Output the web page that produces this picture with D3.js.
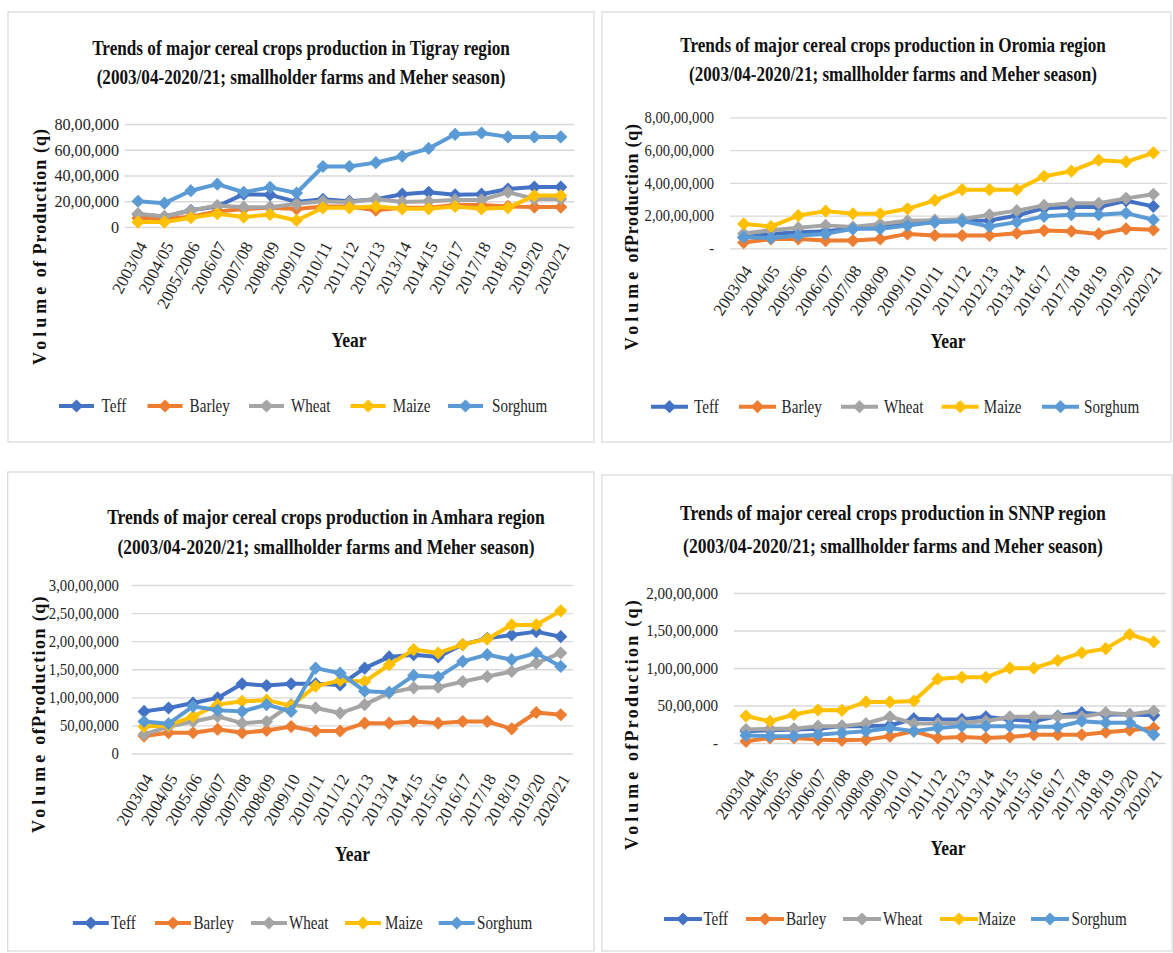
<!DOCTYPE html>
<html>
<head>
<meta charset="utf-8">
<script src="https://cdnjs.cloudflare.com/ajax/libs/d3/7.8.5/d3.min.js"></script>
<style>
  body { margin: 0; background: #fff; }
  text { font-family: "Liberation Serif", "Times New Roman", "DejaVu Serif", serif; }
</style>
</head>
<body>
<div id="chart"></div>
<script>
// crops, same order in every region
const cropNames = ["Teff", "Barley", "Wheat", "Maize", "Sorghum"];
const cropColors = ["#4472C4", "#ED7D31", "#A5A5A5", "#FFC000", "#5B9BD5"];

// all production values in lakh quintals (1 lakh = 1,00,000 q)

// Tigray
const tigrayYears = ["2003/04", "2004/05", "2005/2006", "2006/07", "2007/08", "2008/09", "2009/10", "2010/11", "2011/12", "2012/13", "2013/14", "2014/15", "2016/17", "2017/18", "2018/19", "2019/20", "2020/21"];
const tigrayTeff = [10, 8, 13, 16, 25.5, 25, 19.5, 21.5, 20, 21.5, 25.5, 27, 25, 25.5, 29.5, 31, 31];
const tigrayBarley = [7, 6.5, 8, 12, 14, 15, 14, 16, 16, 13, 15, 15, 17, 17, 16, 15.5, 15.5];
const tigrayWheat = [10.3, 8.2, 12.8, 16.7, 15.4, 15.4, 18, 20, 19.2, 21.8, 19.5, 20, 21, 21, 27, 21.8, 21.8];
const tigrayMaize = [3.8, 3.8, 7.2, 10.3, 7.7, 9.7, 5.1, 14.9, 14.9, 15.9, 14.1, 14.1, 15.9, 14.1, 14.9, 24.4, 24.4];
const tigraySorghum = [20, 18.5, 28.2, 33.3, 27, 30.8, 26.4, 47, 47, 50, 55, 61, 72, 73, 70, 70, 70];
const tigrayTicks = [0, 20, 40, 60, 80];
const tigrayTickLabels = ["0", "20,00,000", "40,00,000", "60,00,000", "80,00,000"];

// Oromia
const oromiaYears = ["2003/04", "2004/05", "2005/06", "2006/07", "2007/08", "2008/09", "2009/10", "2010/11", "2011/12", "2012/13", "2013/14", "2016/17", "2017/18", "2018/19", "2019/20", "2020/21"];
const oromiaTeff = [68, 88, 98, 104, 119, 129, 149, 160, 166, 170, 200, 245, 252, 252, 290, 256];
const oromiaBarley = [35, 57, 57, 47, 47, 57, 88, 78, 78, 78, 92, 108, 104, 88, 119, 113];
const oromiaWheat = [90, 110, 125, 140, 130, 148, 168, 172, 178, 205, 230, 262, 275, 275, 305, 330];
const oromiaMaize = [149, 133, 200, 227, 211, 211, 241, 293, 358, 358, 358, 440, 471, 538, 528, 583];
const oromiaSorghum = [68, 63, 78, 88, 119, 119, 139, 160, 166, 133, 160, 195, 205, 205, 215, 174];
const oromiaTicks = [0, 200, 400, 600, 800];
const oromiaTickLabels = ["-", "2,00,00,000", "4,00,00,000", "6,00,00,000", "8,00,00,000"];

// Amhara
const amharaYears = ["2003/04", "2004/05", "2005/06", "2006/07", "2007/08", "2008/09", "2009/10", "2010/11", "2011/12", "2012/13", "2013/14", "2014/15", "2015/16", "2016/17", "2017/18", "2018/19", "2019/20", "2020/21"];
const amharaTeff = [75, 81, 90, 99, 124, 121, 124, 124, 122, 152, 172, 176, 172, 194, 205, 211, 217, 208];
const amharaBarley = [31, 37, 37, 43, 37, 41, 48, 40, 40, 54, 54, 57, 54, 57, 57, 44, 73, 69];
const amharaWheat = [34, 48, 57, 66, 54, 57, 87, 81, 72, 87, 108, 117, 118, 128, 137, 146, 161, 179];
const amharaMaize = [48, 50, 66, 87, 93, 95, 85, 120, 130, 128, 158, 185, 179, 194, 204, 229, 229, 254];
const amharaSorghum = [57, 53, 84, 77, 75, 87, 75, 152, 143, 111, 109, 139, 136, 164, 176, 167, 179, 155];
const amharaTicks = [0, 50, 100, 150, 200, 250, 300];
const amharaTickLabels = ["0", "50,00,000", "1,00,00,000", "1,50,00,000", "2,00,00,000", "2,50,00,000", "3,00,00,000"];

// SNNP
const snnpYears = amharaYears.slice();
const snnpTeff = [15.7, 17, 18, 19, 22.5, 22.5, 23.4, 32.4, 31.5, 31.5, 35, 31.5, 29, 36, 40.4, 38, 38, 36.9];
const snnpBarley = [2.2, 6.7, 6.7, 4.5, 3.6, 4.5, 9, 15.7, 6.7, 8, 6.7, 8, 11, 11, 11, 14.4, 17, 20];
const snnpWheat = [18, 18.9, 18.9, 22.5, 22.5, 26, 35, 26, 26, 27, 29, 35, 35, 35, 35, 40.4, 38, 42.7];
const snnpMaize = [36, 29, 38, 44, 43.6, 54.8, 54.8, 56, 85.4, 87.6, 87.6, 99.8, 99.8, 110, 120.4, 125.8, 144.7, 134.8];
const snnpSorghum = [10, 9, 9, 11, 13.5, 15.7, 20, 15.7, 20, 22.5, 22.5, 22.5, 21.6, 21.6, 29, 27, 27, 11];
const snnpTicks = [0, 50, 100, 150, 200];
const snnpTickLabels = ["-", "50,00,000", "1,00,00,000", "1,50,00,000", "2,00,00,000"];

const subTitle = "(2003/04-2020/21; smallholder farms and Meher season)";
const serif = '"Liberation Serif", "Times New Roman", "DejaVu Serif", serif';

// layout of the four panels (pixel positions only)
const panels = [
  {
    region: "Tigray", years: tigrayYears,
    series: [tigrayTeff, tigrayBarley, tigrayWheat, tigrayMaize, tigraySorghum],
    ticks: tigrayTicks, tickLabels: tigrayTickLabels,
    box: [8, 12, 594, 442],
    left: 124.8, right: 574, bottom: 227, top: 124,
    title: { cx: 301, y1: 55, y2: 84, len1: 418, len2: 409 },
    tickRight: 119, tickSx: 0.95,
    xlab: { off: 12, angle: 62 },
    ytitle: { x: 46, cy: 246.5, len: 237, text: ["Volume", " of Production (q)"] },
    year: { x: 349, y: 347 },
    legend: { y: 406, lines: [59, 147.5, 249, 350.6, 448], texts: [101.5, 189.6, 291, 392.7, 492], len: 35 }
  },
  {
    region: "Oromia", years: oromiaYears,
    series: [oromiaTeff, oromiaBarley, oromiaWheat, oromiaMaize, oromiaSorghum],
    ticks: oromiaTicks, tickLabels: oromiaTickLabels,
    box: [602, 12, 1171, 442],
    left: 730, right: 1167, bottom: 248.3, top: 117.3,
    title: { cx: 893, y1: 52, y2: 81, len1: 426, len2: 408 },
    tickRight: 714, tickSx: 0.86,
    xlab: { off: 15, angle: 56 },
    ytitle: { x: 638, cy: 236.7, len: 227, text: ["Volume", " ofProduction (q)"] },
    year: { x: 948, y: 348 },
    legend: { y: 406.7, lines: [651, 739, 841, 941.7, 1042], texts: [694, 781.6, 884, 983.8, 1084], len: 37 }
  },
  {
    region: "Amhara", years: amharaYears,
    series: [amharaTeff, amharaBarley, amharaWheat, amharaMaize, amharaSorghum],
    ticks: amharaTicks, tickLabels: amharaTickLabels,
    box: [7.7, 472, 594, 951],
    left: 131.8, right: 573, bottom: 753.5, top: 585,
    title: { cx: 326, y1: 524, y2: 554, len1: 438, len2: 417 },
    tickRight: 119, tickSx: 0.87,
    xlab: { off: 18, angle: 60 },
    ytitle: { x: 45, cy: 714, len: 238, text: ["Volume", " ofProduction (q)"] },
    year: { x: 352.6, y: 861 },
    legend: { y: 923, lines: [72.8, 155, 251, 345, 438.7], texts: [111, 193.5, 289, 385, 477], len: 36 }
  },
  {
    region: "SNNP", years: snnpYears,
    series: [snnpTeff, snnpBarley, snnpWheat, snnpMaize, snnpSorghum],
    ticks: snnpTicks, tickLabels: snnpTickLabels,
    box: [602, 475, 1172, 951],
    left: 734, right: 1165.7, bottom: 743, top: 593,
    title: { cx: 893, y1: 520, y2: 553, len1: 426, len2: 420 },
    tickRight: 718, tickSx: 0.89,
    xlab: { off: 24, angle: 56 },
    ytitle: { x: 638, cy: 724, len: 252, text: ["Volume", " ofProduction (q)"] },
    year: { x: 948, y: 855 },
    legend: { y: 919, lines: [664, 746, 843, 940, 1031], texts: [703.4, 786, 883, 978, 1071.5], len: 38 }
  }
];

const svg = d3.select("#chart").append("svg")
  .attr("width", 1173)
  .attr("height", 953)
  .style("display", "block");

const marker = d3.symbol().type(d3.symbolDiamond2).size(78);

// squeeze a centred text horizontally so it is exactly `len` wide
function squeezed(g, cx, ty, len, txt, size) {
  const t = g.append("text")
    .attr("x", 0).attr("y", 0)
    .attr("text-anchor", "middle")
    .style("font-family", serif)
    .style("font-size", size + "px").style("font-weight", 700).attr("fill", "#111")
    .text(txt);
  const w = t.node().getComputedTextLength();
  t.attr("transform", `translate(${cx},${ty}) scale(${len / w},1)`);
  return t;
}

function drawPanel(p) {
  const g = svg.append("g").attr("class", "panel-" + p.region);

  // chart area border
  g.append("rect")
    .attr("x", p.box[0]).attr("y", p.box[1])
    .attr("width", p.box[2] - p.box[0]).attr("height", p.box[3] - p.box[1])
    .attr("fill", "#fff")
    .attr("stroke", "#d9d9d9")
    .attr("stroke-width", 1.2);

  // title, two lines, condensed like the original
  squeezed(g, p.title.cx, p.title.y1, p.title.len1,
    `Trends of major cereal crops production in ${p.region} region`, 22);
  squeezed(g, p.title.cx, p.title.y2, p.title.len2, subTitle, 22);

  const x = d3.scalePoint()
    .domain(p.years)
    .range([p.left, p.right])
    .padding(0.5);

  const yMax = p.ticks[p.ticks.length - 1];
  const y = d3.scaleLinear()
    .domain([0, yMax])
    .range([p.bottom, p.top]);

  // y axis with gridlines
  const pad = p.left - p.tickRight;
  const yAxis = g.append("g")
    .attr("transform", `translate(${p.left},0)`)
    .call(d3.axisLeft(y)
      .tickValues(p.ticks)
      .tickFormat((d, i) => p.tickLabels[i])
      .tickSize(-(p.right - p.left))
      .tickPadding(pad));
  yAxis.attr("font-family", null);
  yAxis.select(".domain").remove();
  yAxis.selectAll(".tick line").attr("stroke", "#d9d9d9").attr("stroke-width", 1.3);
  yAxis.selectAll(".tick text")
    .attr("x", 0)
    .attr("transform", `translate(${-pad},0) scale(${p.tickSx},1)`)
    .attr("fill", "#262626")
    .style("font-size", "17px")
    .style("font-family", serif);

  // x axis labels
  const xAxis = g.append("g")
    .attr("transform", `translate(0,${p.bottom})`)
    .call(d3.axisBottom(x).tickSize(0));
  xAxis.attr("font-family", null);
  xAxis.select(".domain").remove();
  xAxis.selectAll(".tick text")
    .attr("x", 0).attr("y", 0).attr("dy", "0.35em")
    .attr("transform", `translate(4,${p.xlab.off + 4}) rotate(${-p.xlab.angle})`)
    .attr("text-anchor", "end")
    .attr("fill", "#262626")
    .style("font-size", "17px")
    .style("font-family", serif);

  // y axis title: spaced-out "Volume" then the rest stretched to fit
  const yt = g.append("text")
    .attr("transform", `translate(${p.ytitle.x},${p.ytitle.cy}) rotate(-90)`)
    .attr("text-anchor", "middle")
    .style("font-family", serif)
    .style("font-size", "18px").style("font-weight", 700).attr("fill", "#111");
  yt.append("tspan").attr("letter-spacing", 4).text(p.ytitle.text[0]);
  const rest = yt.append("tspan").text(p.ytitle.text[1]);
  const have = yt.node().getComputedTextLength();
  const extra = (p.ytitle.len - have) / p.ytitle.text[1].length;
  rest.attr("letter-spacing", extra);

  // x axis title
  squeezed(g, p.year.x, p.year.y, 35, "Year", 21);

  // series lines with diamond markers
  const line = d3.line()
    .x((d, i) => x(p.years[i]))
    .y(d => y(d));

  p.series.forEach((vals, k) => {
    const s = g.append("g").attr("class", "series-" + cropNames[k]);
    s.append("path")
      .datum(vals)
      .attr("d", line)
      .attr("fill", "none")
      .attr("stroke", cropColors[k])
      .attr("stroke-width", 4)
      .attr("stroke-linejoin", "round");
    s.selectAll("path.mk")
      .data(vals)
      .join("path")
      .attr("class", "mk")
      .attr("d", marker)
      .attr("transform", (d, i) => `translate(${x(p.years[i])},${y(d)})`)
      .attr("fill", cropColors[k])
      .attr("stroke", cropColors[k])
      .attr("stroke-width", 1.5);
  });

  // legend
  const lg = g.append("g");
  cropNames.forEach((name, k) => {
    const lx = p.legend.lines[k];
    lg.append("line")
      .attr("x1", lx).attr("x2", lx + p.legend.len)
      .attr("y1", p.legend.y).attr("y2", p.legend.y)
      .attr("stroke", cropColors[k])
      .attr("stroke-width", 4);
    lg.append("path")
      .attr("d", marker)
      .attr("transform", `translate(${lx + p.legend.len / 2},${p.legend.y})`)
      .attr("fill", cropColors[k])
      .attr("stroke", cropColors[k])
      .attr("stroke-width", 1.5);
    lg.append("text")
      .attr("transform", `translate(${p.legend.texts[k]},${p.legend.y}) scale(0.84,1)`)
      .attr("dy", "0.35em")
      .attr("fill", "#262626")
      .style("font-family", serif)
      .style("font-size", "18px")
      .text(name);
  });
}

panels.forEach(drawPanel);
</script>
</body>
</html>
